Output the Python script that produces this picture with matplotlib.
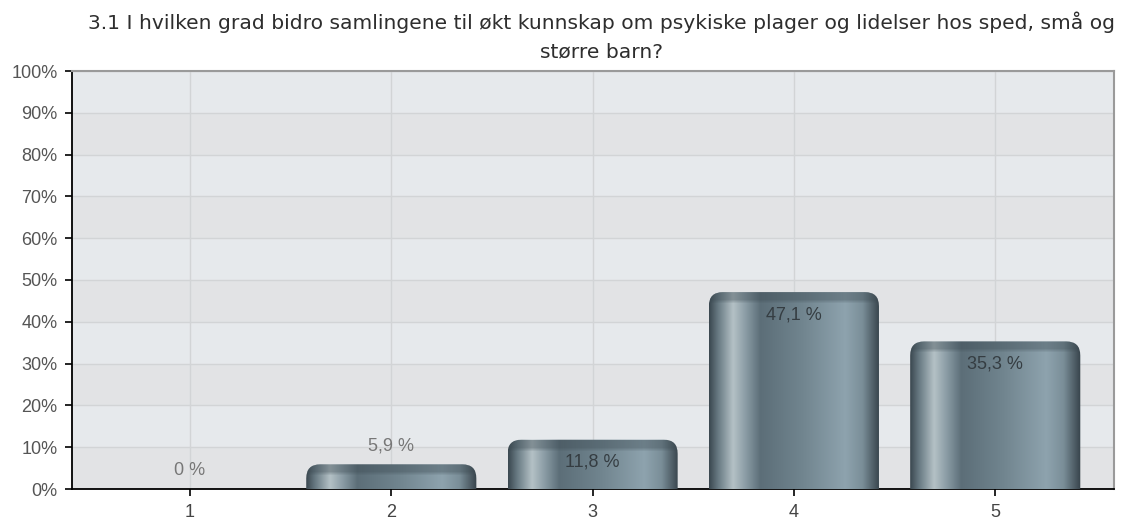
#!/usr/bin/env python3
"""
Survey bar chart: question 3.1, share of answers per score.
"""

import numpy as np
import matplotlib
matplotlib.use('Agg')
import matplotlib.pyplot as plt
from matplotlib.patches import FancyBboxPatch
from matplotlib.colors import to_rgb

plt.rcParams['font.family'] = ['Liberation Sans', 'DejaVu Sans']

# Data
categories = ['1', '2', '3', '4', '5']
values = [0.0, 5.9, 11.8, 47.1, 35.3]
value_labels = ['0 %', '5,9 %', '11,8 %', '47,1 %', '35,3 %']
title_lines = ['3.1 I hvilken grad bidro samlingene til økt kunnskap om psykiske plager og lidelser hos sped, små og',
               'større barn?']

# Bar gradient stops (left to right)
STOPS = [(0.00, '#3b4850'), (0.05, '#667881'), (0.14, '#b4c1c6'),
         (0.22, '#8799a2'), (0.30, '#5c6e78'), (0.55, '#71858f'),
         (0.80, '#8ea3ae'), (0.90, '#7a8e98'), (1.00, '#37434b')]

W, H = 1122, 520
fig = plt.figure(figsize=(W / 100, H / 100), dpi=100)
fig.patch.set_facecolor('white')
ax = fig.add_axes([72 / W, 1 - 489 / H, (1114 - 72) / W, (489 - 71) / H])

x = np.arange(1, len(categories) + 1)
ax.set_xlim(0.414, 5.59)
ax.set_ylim(0, 100)

# Alternating background bands
for i in range(10):
    ax.axhspan(i * 10, (i + 1) * 10, color='#e6e9ec' if i % 2 else '#e2e3e5', zorder=0, lw=0)

ax.set_yticks(np.arange(0, 101, 10))
ax.set_yticklabels([f'{v}%' for v in range(0, 101, 10)])
ax.set_xticks(x)
ax.set_xticklabels(categories)
ax.grid(True, color='#d2d4d6', lw=1, zorder=1)
ax.set_axisbelow(True)

ax.tick_params(axis='y', length=5, width=1.2, colors='black', labelcolor='#555555', labelsize=13, pad=5.5)
ax.tick_params(axis='x', length=5, width=1.2, colors='black', labelcolor='#444444', labelsize=13, pad=5.5)
for s in ['left', 'bottom']:
    ax.spines[s].set_color('black')
    ax.spines[s].set_linewidth(1.3)
for s in ['top', 'right']:
    ax.spines[s].set_color('#9a9a9a')
    ax.spines[s].set_linewidth(1.5)

# Horizontal gradient array
n = 256
pos = np.linspace(0, 1, n)
sp = [p for p, _ in STOPS]
cols = np.array([to_rgb(c) for _, c in STOPS])
grad = np.stack([np.interp(pos, sp, cols[:, k]) for k in range(3)], axis=-1)[None, :, :]

# Top cap: darker band with soft fade at its lower edge
m = 12
cap = np.zeros((m, 1, 4))
cap[:, 0, :3] = to_rgb('#3a4850')
cap[:, 0, 3] = np.concatenate([np.full(8, 0.4), np.linspace(0.3, 0.0, 4)])

bars = ax.bar(x, values, width=0.845, color='none', edgecolor='none')
px_per_pct = 418 / 100
px_per_unit = 201.25
rad_px = 14
for b, v, lab in zip(bars, values, value_labels):
    x0, w = b.get_x(), b.get_width()
    if v > 0:
        rx = rad_px / px_per_unit
        pad_y = rad_px / px_per_pct
        patch = FancyBboxPatch((x0 + rx, -20 + pad_y), w - 2 * rx, v + 20 - 2 * pad_y,
                               boxstyle=f'round,pad={rx},rounding_size={rx}',
                               mutation_aspect=pad_y / rx,
                               facecolor='none', edgecolor='none', zorder=3)
        ax.add_patch(patch)
        im = ax.imshow(grad, extent=(x0, x0 + w, -20, v), aspect='auto',
                       interpolation='bicubic', zorder=3)
        im.set_clip_path(patch)
        capn = ax.imshow(cap, extent=(x0, x0 + w, v - 12 / px_per_pct, v), aspect='auto',
                         interpolation='bilinear', zorder=4)
        capn.set_clip_path(patch)
    if v > 10:
        ax.text(b.get_x() + w / 2, v - 5.4, lab, ha='center', va='center',
                fontsize=13, color='#353d42', zorder=6)
    else:
        ax.text(b.get_x() + w / 2, v + 4.5, lab, ha='center', va='center',
                fontsize=13, color='#777777', zorder=6)

for line, yb in zip(title_lines, [29, 57]):
    fig.text(602 / W, 1 - yb / H, line, ha='center', va='baseline', fontsize=14.6,
             family='DejaVu Sans', color='#2e2e2e')

fig.savefig('out.png', dpi=100, facecolor='white')
